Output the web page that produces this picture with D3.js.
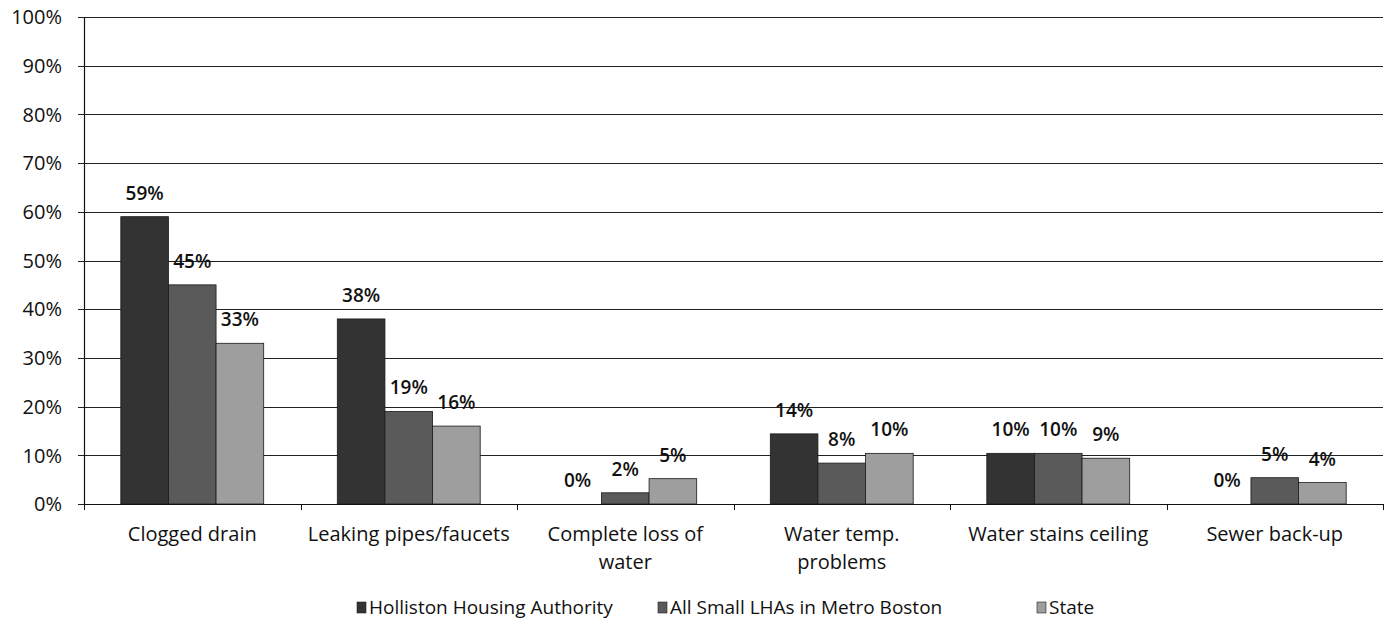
<!DOCTYPE html>
<html><head><meta charset="utf-8">
<script src="https://cdnjs.cloudflare.com/ajax/libs/d3/7.8.5/d3.min.js"></script>
<style>
body{margin:0;background:#fff;}
text{font-family:"Open Sans",sans-serif;fill:#111;}
</style></head>
<body><svg id="c" width="1390" height="625"></svg>
<script>
const categories = [["Clogged drain"],["Leaking pipes/faucets"],["Complete loss of","water"],["Water temp.","problems"],["Water stains ceiling"],["Sewer back-up"]];
const seriesNames = ["Holliston Housing Authority","All Small LHAs in Metro Boston","State"];
const holliston = [59, 38, 0, 14.4, 10.4, 0];
const smallLHAs = [45, 19, 2.3, 8.4, 10.4, 5.4];
const state = [33, 16, 5.2, 10.4, 9.4, 4.4];
const yTicks = [0,10,20,30,40,50,60,70,80,90,100];
const colors = ["#333333","#5a5a5a","#9e9e9e"];

const series = [holliston, smallLHAs, state];
const svg = d3.select("#c");
const L=84, R=1383, T=17, B=504;
const x0 = d3.scaleBand().domain(d3.range(categories.length)).range([L,R]).paddingInner(0).paddingOuter(0);
const y = d3.scaleLinear().domain([0,100]).range([B,T]);
const inner = 0.66;
const x1 = d3.scaleBand().domain(d3.range(3)).range([0, x0.bandwidth()*inner]);
const off = x0.bandwidth()*(1-inner)/2;

// gridlines
svg.append("g").selectAll("line").data(yTicks).join("line")
  .attr("x1",L-6).attr("x2",R).attr("y1",d=>Math.round(y(d))+0.5).attr("y2",d=>Math.round(y(d))+0.5)
  .attr("stroke","#222").attr("stroke-width",1);

// y axis labels
svg.append("g").selectAll("text").data(yTicks).join("text")
  .attr("x",62).attr("y",d=>y(d)).attr("dy","0.36em").attr("text-anchor","end")
  .style("font-size","20px").text(d=>d+"%");

// bars
const fmt = d3.format(".0f");
series.forEach((s,si)=>{
  const g = svg.append("g");
  g.selectAll("rect").data(s).join("rect")
    .attr("x",(d,i)=>x0(i)+off+x1(si))
    .attr("y",d=>y(d))
    .attr("width",x1.bandwidth())
    .attr("height",d=>y(0)-y(d))
    .attr("fill",colors[si]).attr("stroke","#1a1a1a").attr("stroke-width",0.8);
  g.selectAll("text").data(s).join("text")
    .attr("x",(d,i)=>x0(i)+off+x1(si)+x1.bandwidth()/2)
    .attr("y",d=>y(d)-17)
    .attr("text-anchor","middle")
    .style("font-size","19px").style("font-weight","600")
    .text(d=>fmt(Math.floor(d))+"%");
});

// axes lines
svg.append("line").attr("x1",L+0.5).attr("x2",L+0.5).attr("y1",T).attr("y2",B).attr("stroke","#111").attr("stroke-width",1.2);
svg.append("line").attr("x1",L).attr("x2",R).attr("y1",B+0.5).attr("y2",B+0.5).attr("stroke","#111").attr("stroke-width",1.2);
svg.append("g").selectAll("line").data(d3.range(categories.length+1)).join("line")
  .attr("x1",i=>Math.round(L+i*x0.bandwidth())+0.5).attr("x2",i=>Math.round(L+i*x0.bandwidth())+0.5)
  .attr("y1",B).attr("y2",B+6).attr("stroke","#111");

// category labels
const cl = svg.append("g").selectAll("text").data(categories).join("text")
  .attr("x",(d,i)=>x0(i)+x0.bandwidth()/2).attr("y",541).attr("text-anchor","middle")
  .style("font-size","20px");
cl.selectAll("tspan").data(d=>d).join("tspan")
  .attr("x",function(){return this.parentNode.getAttribute("x");})
  .attr("dy",(d,i)=>i===0?0:"1.4em").text(d=>d);

// legend
const legX = [357, 658, 1037];
const lg = svg.append("g").selectAll("g").data(seriesNames).join("g")
  .attr("transform",(d,i)=>`translate(${legX[i]},614)`);
lg.append("rect").attr("x",0).attr("y",-12).attr("width",9).attr("height",11)
  .attr("fill",(d,i)=>colors[i]).attr("stroke","#222").attr("stroke-width",0.6);
lg.append("text").attr("x",12).attr("y",0).style("font-size","19px").text(d=>d);
</script></body></html>
